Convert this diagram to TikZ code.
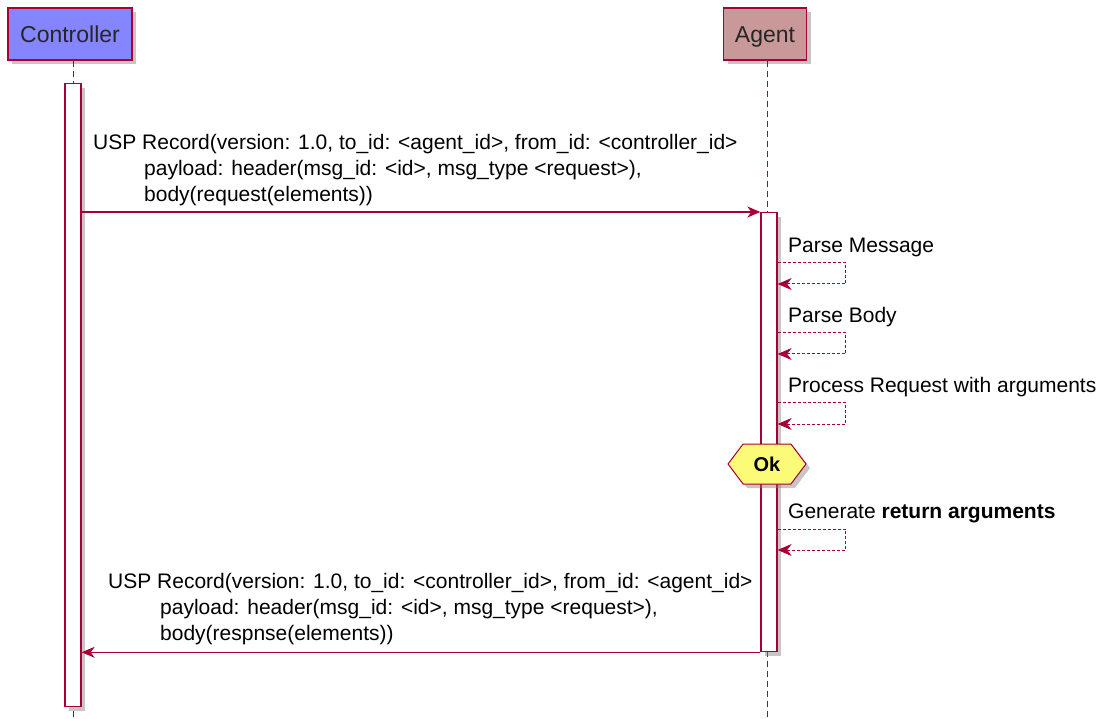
\documentclass[tikz,border=0pt]{standalone}
\usepackage{fontspec}
\setmainfont{Liberation Sans}
\usetikzlibrary{arrows.meta,shapes.symbols,shadows}
\definecolor{umlred}{HTML}{A80036}
\definecolor{ctrlblue}{HTML}{8585FF}
\definecolor{agentrose}{HTML}{C99999}
\definecolor{noteyellow}{HTML}{FBFB77}

\begin{document}
\begin{tikzpicture}[x=1pt,y=-1pt,
  shade/.style={drop shadow={shadow xshift=4pt,shadow yshift=-4pt,fill=black!50,opacity=.45}},
  actor/.style={draw=umlred,line width=1.6pt,minimum height=52pt,inner sep=0pt,
    text height=17pt,text depth=0pt,font=\fontsize{23}{26}\selectfont,text=black!85,shade},
  life/.style={draw=umlred,line width=1pt,dash pattern=on 6pt off 4pt},
  actbox/.style={draw=umlred,fill=white,line width=1.3pt,minimum width=16pt,inner sep=0pt,shade},
  msg/.style={draw=umlred,line width=1.3pt,-{Stealth[length=13pt,width=11pt,inset=4pt]}},
  selfmsg/.style={draw=umlred,line width=1pt,dash pattern=on 3pt off 2pt,
    -{Stealth[length=14pt,width=12pt,inset=4.5pt]}},
  txt/.style={inner sep=0pt,font=\fontsize{21}{26}\selectfont,align=left},
  okbox/.style={signal,signal to=east and west,signal pointer angle=106,draw=umlred,
    fill=noteyellow,line width=1pt,minimum width=78pt,minimum height=40pt,inner sep=0pt,
    font=\bfseries\fontsize{20}{24}\selectfont,shade},
]
  \useasboundingbox (0,0) rectangle (1101,719);

  % participants
  \node[actor,fill=ctrlblue,minimum width=124pt] (ctrl) at (70,34) {Controller};
  \node[actor,fill=agentrose,minimum width=83pt] (agent) at (765,34) {Agent};

  % lifelines
  \coordinate (cend) at (73,719);
  \coordinate (aend) at (767,719);
  \draw[life] (ctrl.south -| cend) -- (cend);
  \draw[life] (agent.south -| aend) -- (aend);

  % activations
  \node[actbox,minimum height=623pt,anchor=north] (cact) at (73,83) {};
  \node[actbox,minimum height=439pt,anchor=north] (aact) at (769,212) {};

  % request
  \draw[msg] (cact.east |- aact.north west) -- (aact.north west);
  \node[txt,anchor=west] (reqtxt) at (93,170)
    {USP Record(version: 1.0, to\_id: <agent\_id>, from\_id: <controller\_id>\\
     \hspace*{51pt}payload: header(msg\_id: <id>, msg\_type <request>),\\
     \hspace*{51pt}body(request(elements))};

  % self messages
  \foreach \y/\lbl in {263/Parse Message,333/Parse Body,403/Process Request with arguments,
                       529/Generate \textbf{return arguments}} {
    \draw[selfmsg] (aact.east |- 0,\y) -- ++(68,0) -- ++(0,21) -- (aact.east |- 0,\y+21);
    \node[txt,anchor=west] at (788,\y-16) {\lbl};
  }

  \node[okbox] (ok) at (767,464) {Ok};

  % response
  \draw[msg] (aact.south west) -- (cact.east |- aact.south west);
  \node[txt,anchor=west] (resptxt) at (108,609)
    {USP Record(version: 1.0, to\_id: <controller\_id>, from\_id: <agent\_id>\\
     \hspace*{52pt}payload: header(msg\_id: <id>, msg\_type <request>),\\
     \hspace*{52pt}body(respnse(elements))};
\end{tikzpicture}
\end{document}
